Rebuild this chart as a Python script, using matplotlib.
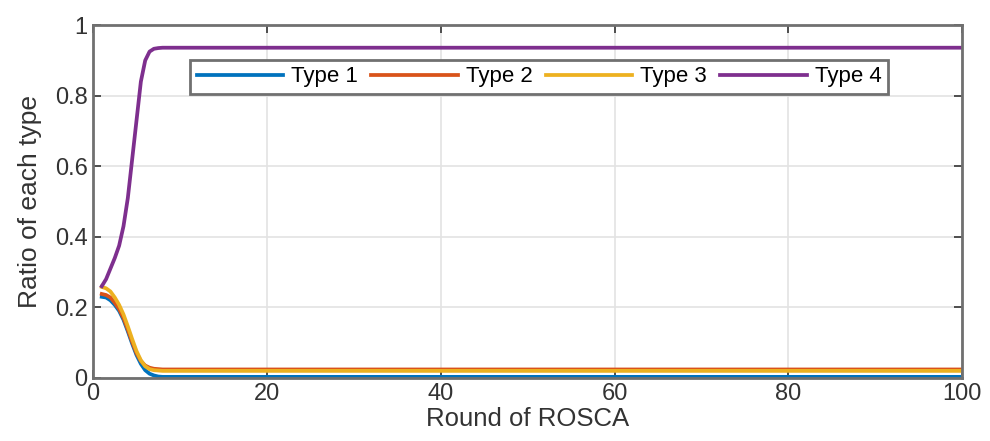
import numpy as np
import matplotlib.pyplot as plt
from matplotlib.ticker import FormatStrFormatter

plt.rcParams['font.family'] = ['Liberation Sans', 'DejaVu Sans']

# the early rounds are sampled at half steps, the rest at whole rounds
head_x = [1, 1.5, 2, 2.5, 3, 3.5, 4, 4.5, 5, 5.5, 6, 6.5, 7, 7.5]
type1_head = [0.230, 0.228, 0.220, 0.207, 0.190, 0.165, 0.132, 0.097, 0.065,
              0.040, 0.022, 0.012, 0.007, 0.004]
type2_head = [0.238, 0.235, 0.228, 0.213, 0.195, 0.170, 0.137, 0.102, 0.070,
              0.048, 0.035, 0.029, 0.026, 0.025]
type3_head = [0.258, 0.254, 0.245, 0.228, 0.207, 0.180, 0.146, 0.110, 0.076,
              0.050, 0.033, 0.025, 0.022, 0.021]
type4_head = [0.260, 0.280, 0.310, 0.340, 0.375, 0.430, 0.510, 0.620, 0.730,
              0.840, 0.900, 0.925, 0.933, 0.935]
tail_x = np.arange(8, 101)
type1_tail = 0.003
type2_tail = 0.024
type3_tail = 0.020
type4_tail = 0.936

rounds = np.concatenate([head_x, tail_x])
type1 = type1_head + [type1_tail] * len(tail_x)
type2 = type2_head + [type2_tail] * len(tail_x)
type3 = type3_head + [type3_tail] * len(tail_x)
type4 = type4_head + [type4_tail] * len(tail_x)

labels = ['Type 1', 'Type 2', 'Type 3', 'Type 4']
colors = ['#0072BD', '#D95319', '#EDB120', '#7E2F8E']

fig = plt.figure(figsize=(9.9, 4.41), dpi=100)
ax = fig.add_axes([0.094, 0.143, 0.878, 0.80])

for series, lab, col in zip([type1, type2, type3, type4], labels, colors):
    ax.plot(rounds, series, color=col, lw=2.7, label=lab,
            solid_joinstyle='round')

ax.set_xlim(0, 100)
ax.set_ylim(0, 1)
ax.set_xticks([0, 20, 40, 60, 80, 100])
ax.set_yticks([0, 0.2, 0.4, 0.6, 0.8, 1])
ax.yaxis.set_major_formatter(FormatStrFormatter('%g'))
ax.grid(True, color='#e3e3e3', lw=1.2)
ax.set_axisbelow(True)
ax.tick_params(direction='in', top=True, right=True, length=6, width=1.2,
               colors='#333333', labelsize=17, pad=4)
for s in ax.spines.values():
    s.set_color('#707070')
    s.set_linewidth(2)

ax.set_xlabel('Round of ROSCA', fontsize=18.5, color='#333333', labelpad=1)
ax.set_ylabel('Ratio of each type', fontsize=19, color='#333333', labelpad=9)

leg = ax.legend(loc='center', bbox_to_anchor=(0.513, 0.853), ncol=4,
                fontsize=16, handlelength=3.9, handletextpad=0.35,
                columnspacing=0.6, borderpad=0.3, borderaxespad=0,
                fancybox=False, framealpha=1)
leg.get_frame().set_edgecolor('#707070')
leg.get_frame().set_linewidth(2)

fig.savefig('out.png', dpi=100)
